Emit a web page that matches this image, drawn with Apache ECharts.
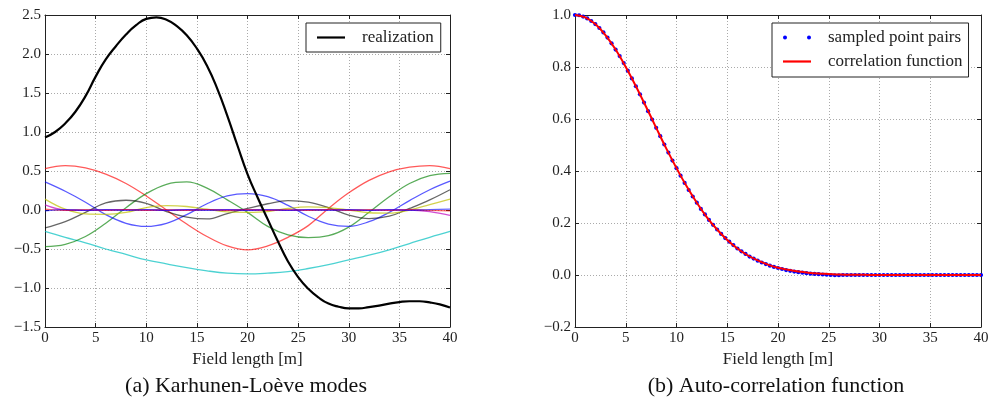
<!DOCTYPE html>
<html>
<head>
<meta charset="utf-8">
<script src="https://cdn.jsdelivr.net/npm/echarts@6/dist/echarts.min.js"></script>
<style>
html,body{margin:0;padding:0;background:#fff;}
#chart{width:998px;height:402px;}
</style>
</head>
<body>
<div id="chart"></div>
<script>
// ---------- data ----------
const xTicks = [0, 5, 10, 15, 20, 25, 30, 35, 40];
const modeX = [0,2,4,6,8,10,12,14,16,18,20,22,24,26,28,30,32,34,36,38,40];
const modeRed = [0.53,0.57,0.54,0.46,0.34,0.18,0.0,-0.18,-0.34,-0.46,-0.51,-0.46,-0.35,-0.20,0.02,0.22,0.38,0.49,0.55,0.57,0.53];
const modeGreen = [-0.47,-0.44,-0.34,-0.17,0.03,0.21,0.33,0.36,0.28,0.13,-0.03,-0.21,-0.32,-0.355,-0.33,-0.22,-0.03,0.17,0.34,0.44,0.47];
const modeBlue = [0.36,0.24,0.10,-0.06,-0.17,-0.21,-0.17,-0.06,0.08,0.18,0.21,0.17,0.06,-0.08,-0.18,-0.21,-0.15,-0.03,0.12,0.26,0.37];
const modeGray = [-0.23,-0.15,-0.03,0.09,0.125,0.085,-0.02,-0.09,-0.115,-0.045,0.02,0.08,0.12,0.10,0.03,-0.065,-0.11,-0.08,0.02,0.13,0.26];
const modeYellow = [0.14,0.01,-0.05,-0.055,-0.03,0.03,0.055,0.045,0.01,-0.025,-0.03,-0.02,0.02,0.04,0.03,0.0,-0.035,-0.04,0.0,0.07,0.14];
const modeMagenta = [0.065,0.0,-0.005,0.0,0.005,0.0,-0.005,0.0,0.005,0.0,0.0,0.0,-0.005,0.0,0.005,0.0,-0.005,0.0,0.0,-0.02,-0.07];
const modeCyan = [-0.275,-0.35,-0.42,-0.50,-0.57,-0.64,-0.69,-0.74,-0.78,-0.81,-0.82,-0.81,-0.79,-0.75,-0.70,-0.64,-0.58,-0.51,-0.43,-0.35,-0.275];
const modeHighA = [0.01,-0.005,0.005,-0.005,0.005,-0.005,0.005,-0.005,0.005,-0.005,0.005,-0.005,0.005,-0.005,0.005,-0.005,0.005,-0.005,0.005,-0.005,-0.01];
const modeHighB = [-0.01,0.005,-0.005,0.005,-0.005,0.005,-0.005,0.005,-0.005,0.005,-0.005,0.005,-0.005,0.005,-0.005,0.005,-0.005,0.005,-0.005,0.005,0.01];

const realX = [0,1,2,3,4,5,6,7,8,9,10,11,12,13,14,15,16,17,18,19,20,21,22,23,24,25,26,27,28,29,30,31,32,33,34,35,36,37,38,39,40];
const realization = [0.93,1.00,1.11,1.26,1.46,1.71,1.93,2.10,2.25,2.37,2.45,2.47,2.44,2.36,2.24,2.07,1.85,1.56,1.21,0.83,0.46,0.16,-0.12,-0.40,-0.66,-0.86,-1.01,-1.12,-1.20,-1.24,-1.26,-1.26,-1.245,-1.225,-1.20,-1.18,-1.17,-1.17,-1.185,-1.21,-1.25];

const sampleX = [0,0.4,0.8,1.2,1.6,2,2.4,2.8,3.2,3.6,4,4.4,4.8,5.2,5.6,6,6.4,6.8,7.2,7.6,8,8.4,8.8,9.2,9.6,10,10.4,10.8,11.2,11.6,12,12.4,12.8,13.2,13.6,14,14.4,14.8,15.2,15.6,16,16.4,16.8,17.2,17.6,18,18.4,18.8,19.2,19.6,20,20.4,20.8,21.2,21.6,22,22.4,22.8,23.2,23.6,24,24.4,24.8,25.2,25.6,26,26.4,26.8,27.2,27.6,28,28.4,28.8,29.2,29.6,30,30.4,30.8,31.2,31.6,32,32.4,32.8,33.2,33.6,34,34.4,34.8,35.2,35.6,36,36.4,36.8,37.2,37.6,38,38.4,38.8,39.2,39.6,40];
const sampledPairs = [1.000,0.999,0.994,0.987,0.977,0.965,0.950,0.933,0.913,0.891,0.867,0.842,0.815,0.786,0.756,0.726,0.695,0.663,0.630,0.598,0.566,0.534,0.502,0.471,0.440,0.411,0.382,0.354,0.327,0.302,0.278,0.254,0.233,0.212,0.193,0.175,0.158,0.142,0.128,0.115,0.102,0.091,0.081,0.071,0.063,0.055,0.048,0.042,0.036,0.031,0.027,0.023,0.019,0.016,0.013,0.011,0.009,0.007,0.005,0.004,0.003,0.002,0.001,0.000,-0.001,-0.001,0.000,0.000,0.000,0.000,0.000,0.000,0.000,0.000,0.000,0.000,0.000,0.000,0.000,0.000,0.000,0.000,0.000,0.000,0.000,0.000,0.000,0.000,0.000,0.000,0.000,0.000,0.000,0.000,0.000,0.000,0.000,0.000,0.000,0.000,0.000];
const corrX = realX;
const corrFunction = [1.000,0.991,0.965,0.923,0.867,0.800,0.726,0.647,0.566,0.486,0.411,0.341,0.278,0.222,0.175,0.135,0.102,0.076,0.056,0.040,0.028,0.020,0.0135,0.009,0.006,0.004,0.002,0.001,0.001,0,0,0,0,0,0,0,0,0,0,0,0];

const leftYTicks = [-1.5,-1.0,-0.5,0.0,0.5,1.0,1.5,2.0,2.5];
const rightYTicks = [-0.2,0.0,0.2,0.4,0.6,0.8,1.0];

// ---------- helpers ----------
const FONT = 'Liberation Serif';
const pairs = (xs, ys) => xs.map((x, i) => [x, ys[i]]);
const fmtY = v => (v < 0 ? '\u2212' : '') + Math.abs(v).toFixed(1);
const AX = '#222';
const LINE_ICON = 'path://M0,0L28,0L28,2.2L0,2.2Z';
const DOTS_ICON = 'path://M0,2a2,2 0 1,0 4,0a2,2 0 1,0 -4,0M24,2a2,2 0 1,0 4,0a2,2 0 1,0 -4,0';

function xAxes(gi, name) {
  return [
    { type:'value', gridIndex:gi, min:xTicks[0], max:xTicks[xTicks.length-1], interval:5, position:'bottom',
      name:name, nameLocation:'middle', nameGap:16, nameTextStyle:{fontFamily:FONT, fontSize:17, color:'#222'},
      axisLine:{onZero:false, lineStyle:{color:AX, width:1}},
      axisTick:{inside:true, length:4, lineStyle:{color:AX}},
      axisLabel:{fontFamily:FONT, fontSize:15, color:'#222', margin:4},
      splitLine:{show:true, lineStyle:{type:[1,2], color:'#aaa', width:1}} },
    { type:'value', gridIndex:gi, min:xTicks[0], max:xTicks[xTicks.length-1], interval:5, position:'top',
      axisLine:{onZero:false, lineStyle:{color:AX, width:1}},
      axisTick:{inside:true, length:4, lineStyle:{color:AX}},
      axisLabel:{show:false}, splitLine:{show:false} }
  ];
}
function yAxes(gi, ticks, step) {
  return [
    { type:'value', gridIndex:gi, min:ticks[0], max:ticks[ticks.length-1], interval:step, position:'left',
      axisLine:{onZero:false, lineStyle:{color:AX, width:1}},
      axisTick:{inside:true, length:4, lineStyle:{color:AX}},
      axisLabel:{fontFamily:FONT, fontSize:15, color:'#222', margin:4, formatter:fmtY},
      splitLine:{show:true, lineStyle:{type:[1,2], color:'#aaa', width:1}} },
    { type:'value', gridIndex:gi, min:ticks[0], max:ticks[ticks.length-1], interval:step, position:'right',
      axisLine:{onZero:false, lineStyle:{color:AX, width:1}},
      axisTick:{inside:true, length:4, lineStyle:{color:AX}},
      axisLabel:{show:false}, splitLine:{show:false} }
  ];
}
function mode(name, ys, color, op) {
  return { name:name, type:'line', xAxisIndex:0, yAxisIndex:0, data:pairs(modeX, ys), smooth:0.4,
    showSymbol:false, symbol:'none', silent:true,
    lineStyle:{color:color, width:1.3, opacity:op} };
}

const chart = echarts.init(document.getElementById('chart'), null, {renderer:'canvas'});
chart.setOption({
  animation:false,
  backgroundColor:'#fff',
  title:[
    { text:'(a) Karhunen-Lo\u00e8ve modes', left:246, top:375, textAlign:'center', padding:0,
      textStyle:{fontFamily:FONT, fontSize:22, fontWeight:'normal', color:'#111'} },
    { text:'(b) Auto-correlation function', left:776, top:375, textAlign:'center', padding:0,
      textStyle:{fontFamily:FONT, fontSize:22, fontWeight:'normal', color:'#111'} }
  ],
  grid:[
    { left:45, top:15, width:405, height:312 },
    { left:575, top:15, width:406, height:312 }
  ],
  xAxis:[...xAxes(0,'Field length [m]'), ...xAxes(1,'Field length [m]')],
  yAxis:[...yAxes(0,leftYTicks,0.5), ...yAxes(1,rightYTicks,0.2)],
  legend:[
    { data:[{name:'realization', icon:LINE_ICON}], left:306, top:23, orient:'vertical',
      borderColor:'#222', borderWidth:1, padding:[6,7,6,11], itemWidth:28, itemHeight:14,
      selectedMode:false, backgroundColor:'#fff',
      textStyle:{fontFamily:FONT, fontSize:17, color:'#222', padding:[0,0,0,12], lineHeight:17} },
    { data:[
        {name:'sampled point pairs', icon:DOTS_ICON},
        {name:'correlation function', icon:LINE_ICON}],
      left:772, top:23, orient:'vertical',
      borderColor:'#222', borderWidth:1, padding:[6,6,7,11], itemWidth:28, itemHeight:14, itemGap:7,
      selectedMode:false, backgroundColor:'#fff',
      textStyle:{fontFamily:FONT, fontSize:17, color:'#222', padding:[0,0,0,12], lineHeight:17} }
  ],
  series:[
    mode('m1', modeCyan, '#00bfbf', 0.7),
    mode('m2', modeRed, '#ff0000', 0.65),
    mode('m3', modeGreen, '#008000', 0.65),
    mode('m4', modeBlue, '#0000ff', 0.65),
    mode('m5', modeGray, '#000000', 0.6),
    mode('m6', modeYellow, '#bfbf00', 0.7),
    mode('m7', modeMagenta, '#bf00bf', 0.7),
    mode('m8', modeHighA, '#ff0000', 0.6),
    mode('m9', modeHighB, '#0000ff', 0.6),
    { name:'realization', type:'line', xAxisIndex:0, yAxisIndex:0, data:pairs(realX, realization),
      smooth:0.5, showSymbol:false, symbol:'none', lineStyle:{color:'#000', width:2.2}, itemStyle:{color:'#000'} },
    { name:'sampled point pairs', type:'scatter', xAxisIndex:2, yAxisIndex:2, data:pairs(sampleX, sampledPairs),
      symbol:'circle', symbolSize:4.2, itemStyle:{color:'#0000ff', opacity:1} },
    { name:'correlation function', type:'line', xAxisIndex:2, yAxisIndex:2, data:pairs(corrX, corrFunction),
      smooth:0.4, showSymbol:false, symbol:'none', lineStyle:{color:'#ff0000', width:2}, itemStyle:{color:'#ff0000'} }
  ]
});
</script>
</body>
</html>
